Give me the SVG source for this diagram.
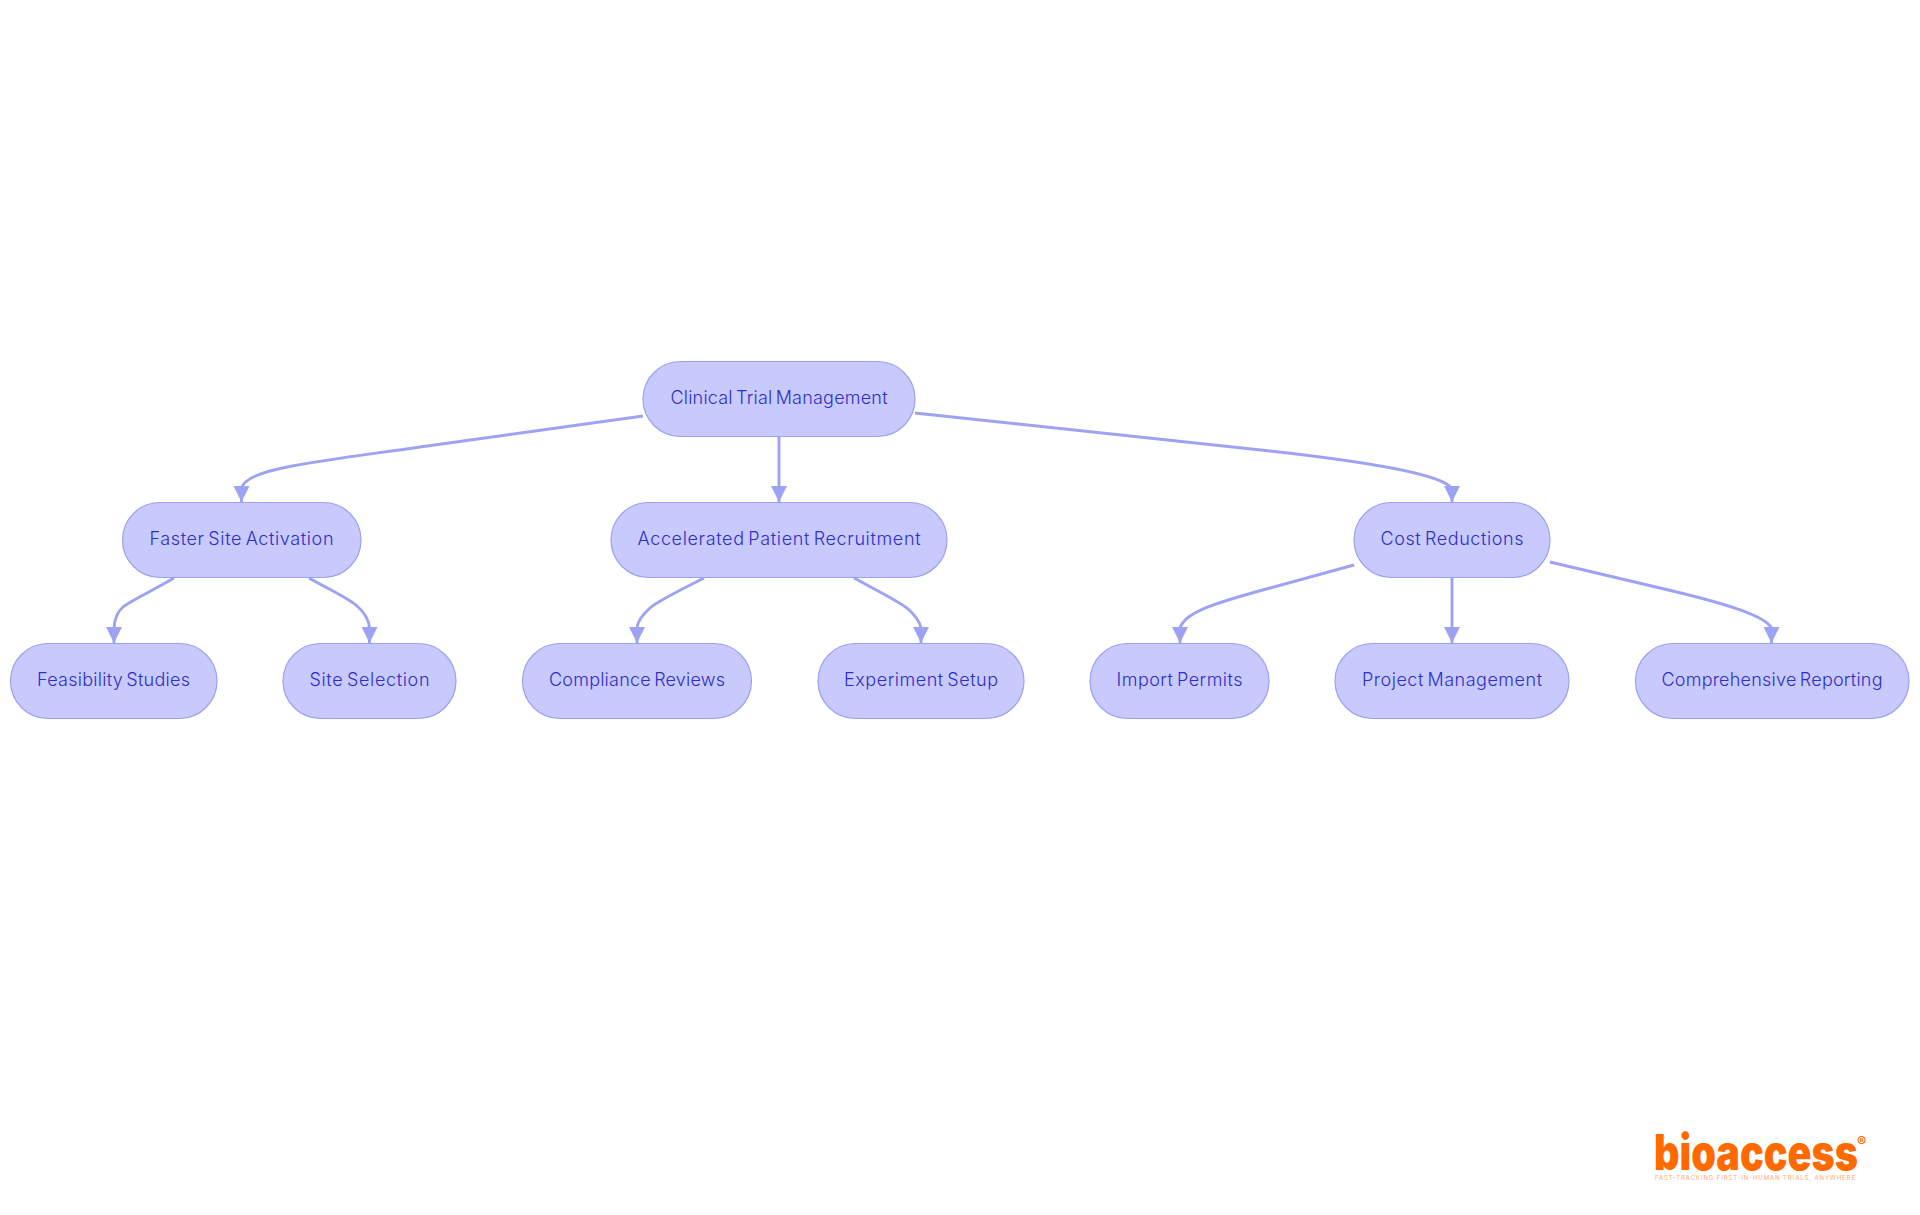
<svg xmlns="http://www.w3.org/2000/svg" width="1920" height="1215" viewBox="0 0 1920 1215">
<style>
.n rect{fill:#C8CAFD;stroke:#9BA0F0;stroke-width:1.2}
.n text{font-family:Inter,"Noto Sans",sans-serif;font-size:18px;font-weight:350;word-spacing:-2px;fill:#2E2EC8;text-anchor:middle;dominant-baseline:central}
#edges path{fill:none;stroke:#9DA2F3;stroke-width:2.9}
#edges path.a{marker-end:url(#ah)}
</style>
<defs><marker id="ah" markerUnits="userSpaceOnUse" markerWidth="16" markerHeight="16" refX="16" refY="8" orient="auto"><path d="M0 0L16 8L0 16z" fill="#9DA2F3"/></marker></defs>
<rect width="1920" height="1215" fill="#fff"/>
<g id="edges">
<path class="a" d="M643 416L420 447C330 460 262 467 247 481Q242 484 241.500 490V502"/>
<path class="a" d="M779 437V502"/>
<path class="a" d="M915 413L1270 451C1360 461 1430 472 1448 485Q1451.500 487 1452 491V502"/>
<path class="a" d="M174 578C150 592 132 600 123 607C117 612 114.500 620 114 628V643"/>
<path class="a" d="M309 578C330 590 348 598 357 606C365 613 369 620 369.500 628V643"/>
<path class="a" d="M704 578C670 595 655 603 650 608C641 616 637.500 622 637 628V643"/>
<path class="a" d="M854 578C880 592 898 601 907 608C916 616 920 622 921 628V643"/>
<path class="a" d="M1354 565L1270 588C1215 603 1185 612 1180 628V643"/>
<path class="a" d="M1452 578V643"/>
<path class="a" d="M1550 562L1660 588C1720 602 1765 615 1771.500 628V643"/>
</g>
<g id="root" class="n"><rect x="643" y="361.500" width="272" height="75" rx="37.500"/><text x="779" y="397.500" textLength="217">Clinical Trial Management</text></g>
<g id="n-faster" class="n"><rect x="122.500" y="502.500" width="238.500" height="75" rx="37.500"/><text x="241.500" y="538.500" textLength="184">Faster Site Activation</text></g>
<g id="n-accel" class="n"><rect x="611" y="502.500" width="336" height="75" rx="37.500"/><text x="779" y="538.500" textLength="283">Accelerated Patient Recruitment</text></g>
<g id="n-cost" class="n"><rect x="1354" y="502.500" width="196" height="75" rx="37.500"/><text x="1452" y="538.500" textLength="143">Cost Reductions</text></g>
<g id="n-feas" class="n"><rect x="10.500" y="643.500" width="206.500" height="75" rx="37.500"/><text x="113.500" y="679.500" textLength="153">Feasibility Studies</text></g>
<g id="n-site" class="n"><rect x="283" y="643.500" width="173" height="75" rx="37.500"/><text x="369.500" y="679.500" textLength="120">Site Selection</text></g>
<g id="n-comp" class="n"><rect x="522.500" y="643.500" width="229" height="75" rx="37.500"/><text x="637" y="679.500" textLength="176">Compliance Reviews</text></g>
<g id="n-exp" class="n"><rect x="818" y="643.500" width="206" height="75" rx="37.500"/><text x="921" y="679.500" textLength="154">Experiment Setup</text></g>
<g id="n-imp" class="n"><rect x="1090" y="643.500" width="179" height="75" rx="37.500"/><text x="1179.500" y="679.500" textLength="126">Import Permits</text></g>
<g id="n-proj" class="n"><rect x="1335" y="643.500" width="234" height="75" rx="37.500"/><text x="1452" y="679.500" textLength="180">Project Management</text></g>
<g id="n-rep" class="n"><rect x="1635.500" y="643.500" width="273.500" height="75" rx="37.500"/><text x="1772" y="679.500" textLength="221">Comprehensive Reporting</text></g>
<g id="logo">
<text x="1654" y="1169.500" font-family="Inter,sans-serif" font-weight="900" font-size="49" fill="#FF6A00" textLength="204" lengthAdjust="spacingAndGlyphs">bioaccess</text>
<text x="1857" y="1147" font-family="Inter,sans-serif" font-weight="700" font-size="14" fill="#FF6A00">®</text>
<text x="1655" y="1180" font-family="Inter,sans-serif" font-size="6" fill="#FFA870" textLength="200">FAST-TRACKING FIRST-IN-HUMAN TRIALS, ANYWHERE</text>
</g>
</svg>
